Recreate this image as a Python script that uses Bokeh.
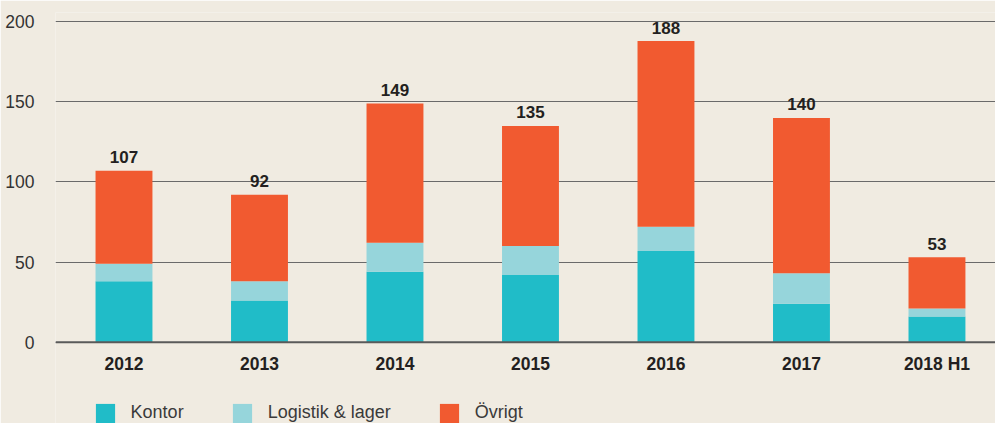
from bokeh.plotting import figure
from bokeh.models import Range1d, FixedTicker, Legend, LegendItem, ColumnDataSource, Span
from bokeh.core.properties import value
from bokeh.embed import file_html
from bokeh.resources import INLINE

years = ["2012", "2013", "2014", "2015", "2016", "2017", "2018 H1"]
kontor = [38, 26, 44, 42, 57, 24, 16]
logistik = [11, 12, 18, 18, 15, 19, 5]
ovrigt = [58, 54, 87, 75, 116, 97, 32]
series_names = ["Kontor", "Logistik & lager", "Övrigt"]
colors = ["#20BCC8", "#96D5DB", "#F15A30"]
y_ticks = [0, 50, 100, 150, 200]

totals = [a + b + c for a, b, c in zip(kontor, logistik, ovrigt)]
idx = list(range(len(years)))

bg = "#F0EBE1"
p = figure(width=995, height=423,
           x_range=Range1d(-0.5055, 6.432), y_range=Range1d(-50.75, 205.8),
           output_backend="svg", toolbar_location=None,
           min_border_left=55, min_border_right=0, min_border_top=12, min_border_bottom=0)
p.background_fill_color = bg
p.border_fill_color = bg
p.outline_line_color = None

src = ColumnDataSource(dict(x=idx, year=years, Kontor=kontor, Logistik=logistik, Ovrigt=ovrigt,
                            total=totals, zero=[0] * len(years), label=[str(t) for t in totals]))
rs = p.vbar_stack(["Kontor", "Logistik", "Ovrigt"], x="x", width=0.42, color=colors, source=src, line_width=0)

# zero baseline
p.add_layout(Span(location=0, dimension="width", line_color="#5a5a5a", line_width=2))

# value labels on top of bars
p.text(x="x", y="total", text="label", source=src, y_offset=-13.5, text_align="center",
       text_baseline="alphabetic", text_font=value("Liberation Sans"), text_font_style="bold",
       text_font_size="17px", text_color="#231f20")

# category labels under the baseline
p.text(x="x", y="zero", text="year", source=src, y_offset=21.5, text_align="center",
       text_baseline="alphabetic", text_font=value("Liberation Sans"), text_font_style="bold",
       text_font_size="17.5px", text_color="#231f20")

p.xaxis.visible = False
p.xgrid.grid_line_color = None
p.ygrid.grid_line_color = "#6a6a6a"
p.ygrid.grid_line_width = 1
p.yaxis.ticker = FixedTicker(ticks=y_ticks)
p.yaxis.axis_line_color = None
p.yaxis.major_tick_line_color = None
p.yaxis.minor_tick_line_color = None
p.yaxis.major_label_standoff = 15
p.yaxis.major_label_text_font = "Liberation Sans"
p.yaxis.major_label_text_font_size = "17.5px"
p.yaxis.major_label_text_color = "#333333"

items = [LegendItem(label=n, renderers=[r]) for n, r in zip(series_names, rs)]
legend = Legend(items=items, orientation="horizontal", location=(37.6, -1.6),
                glyph_width=24, glyph_height=24, label_height=24, label_standoff=14, spacing=46,
                padding=0, margin=0, border_line_color=None, background_fill_alpha=0,
                label_text_font="Liberation Sans", label_text_font_size="18px",
                label_text_color="#3a3a3a")
p.add_layout(legend, "center")

open("out.html", "w").write(file_html(p, INLINE))
